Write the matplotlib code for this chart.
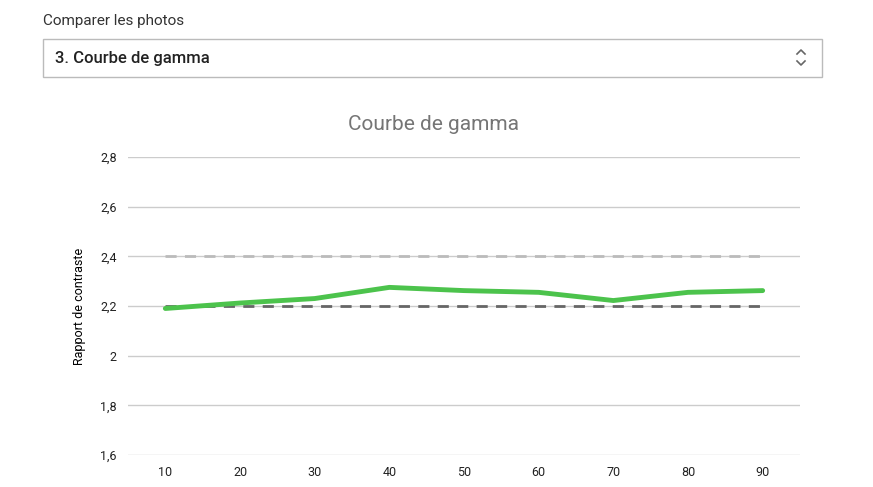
import matplotlib
matplotlib.use("Agg")
import matplotlib.pyplot as plt
from matplotlib.patches import Rectangle
from matplotlib.lines import Line2D

x = [10, 20, 30, 40, 50, 60, 70, 80, 90]
gamma = [2.19, 2.212, 2.23, 2.275, 2.262, 2.255, 2.222, 2.255, 2.262]
ref_high = [2.4] * 9
ref_low = [2.2] * 9
yticks = [1.6, 1.8, 2.0, 2.2, 2.4, 2.6, 2.8]
ylabels = ["1,6", "1,8", "2", "2,2", "2,4", "2,6", "2,8"]

plt.rcParams['font.family'] = ['Roboto', 'DejaVu Sans']
W, H = 873, 487
fig = plt.figure(figsize=(W/100, H/100), dpi=100)

fig.text(43/W, 1-21/H, "Comparer les photos", fontsize=11, color="#333333", va="center")
fig.patches.append(Rectangle((43/W, 1-77/H), (822-43)/W, 38/H, transform=fig.transFigure,
                             fill=False, edgecolor="#bbbbbb", lw=1))
fig.text(55/W, 1-58/H, "3. Courbe de gamma", fontsize=12, fontweight="medium", color="#222222", va="center")
for ys in [(54, 50, 54), (61, 65, 61)]:
    fig.lines.append(Line2D([797/W, 801/W, 805/W], [1-ys[0]/H, 1-ys[1]/H, 1-ys[2]/H],
                            transform=fig.transFigure, color="#666666", lw=1.2))

ax = fig.add_axes([128/W, 1-455/H, (800-128)/W, (455-157)/H])
ax.plot(x, ref_high, color="#bbbbbb", lw=2, ls=(0, (4, 3)))
ax.plot(x, ref_low, color="#666666", lw=2, ls=(0, (4, 3)))
ax.plot(x, gamma, color="#4cc34c", lw=3.5, solid_joinstyle="round", solid_capstyle="round")
ax.set_xlim(5, 95)
ax.set_ylim(1.6, 2.8)
ax.set_yticks(yticks)
ax.set_yticklabels(ylabels)
ax.set_xticks(x)
ax.grid(axis="y", color="#cccccc", lw=1)
ax.set_axisbelow(True)
for s in ax.spines.values():
    s.set_visible(False)
ax.tick_params(length=0, labelsize=9, colors="#222222", pad=8)
ax.set_ylabel("Rapport de contraste", fontsize=9, labelpad=10)
fig.text(433/W, 1-124/H, "Courbe de gamma", fontsize=15, color="#757575", ha="center", va="center")
fig.savefig("out.png", dpi=100)
